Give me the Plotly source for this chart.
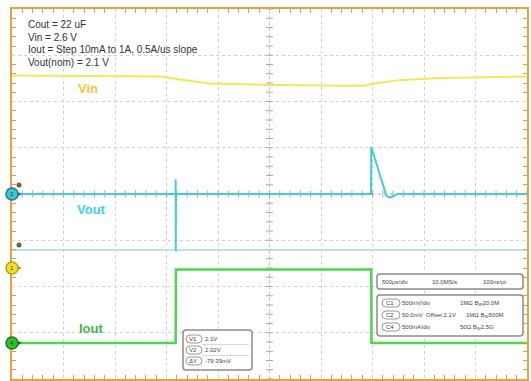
import numpy as np
import plotly.graph_objects as go

# time in us, 500 us/div, 10 div across the screen
t_vin = [-2500, -1050, -870, -580, 0, 920, 1020, 1260, 1650, 2500]
vin = [2.600, 2.590, 2.557, 2.514, 2.498, 2.490, 2.514, 2.550, 2.572, 2.590]

t_vout = [-2500, -912, -911, -910, -908, 986, 988, 1134, 1172, 1240, 2500]
vout = [2.100, 2.100, 2.116, 2.038, 2.100, 2.100, 2.151, 2.098, 2.096, 2.100, 2.100]

t_iout = [-2500, -911, -909, 988, 990, 2500]
iout = [0.01, 0.01, 1.0, 1.0, 0.01, 0.01]

cursor_v = 2.0395
cursor_marks = [2.1097, 2.0449]

notes = ["Cout = 22 uF", "Vin = 2.6 V", "Iout = Step 10mA to 1A, 0.5A/us slope", "Vout(nom) = 2.1 V"]
meas_labels = ["V1", "V2", "\u0394Y"]
meas_values = ["2.1V", "2.02V", "-79.39mV"]
timebase = ["500\u00b5s/div", "10.0MS/s", "100ns/pt"]
ch_labels = ["C1", "C2", "C4"]
ch_scale = ["500mV/div", "50.0mV  Offset:2.1V", "500mA/div"]
ch_imp = ["1M\u03a9 B<sub>W</sub>20.0M", "1M\u03a9 B<sub>W</sub>500M", "50\u03a9 B<sub>W</sub>2.5G"]

W, H = 531, 381
L, R, T, B = 12, 529, 9, 379
PW, PH = R - L, B - T

ORANGE = "#e6a23c"
YELLOW = "#f2e65a"
CYAN = "#44ccd9"
GREEN = "#4cd64c"
TXT = "#444444"


def px(x, y):
    return (x - L) / PW, (B - y) / PH


def rrect(x0, y0, x1, y1, r=3):
    a, b = x0 - L, B - y1
    c, d = x1 - L, B - y0
    return (f"M {a+r},{b} L {c-r},{b} Q {c},{b} {c},{b+r} L {c},{d-r} Q {c},{d} {c-r},{d} "
            f"L {a+r},{d} Q {a},{d} {a},{d-r} L {a},{b+r} Q {a},{b} {a+r},{b} Z")


fig = go.Figure()

# centre graticule ticks
fig.add_trace(go.Scatter(x=np.zeros(41), y=np.linspace(1.9, 2.3, 41), mode="markers",
                         marker=dict(symbol="line-ew", size=5, line=dict(width=1, color="#a8a8a8")),
                         hoverinfo="skip", showlegend=False))
fig.add_trace(go.Scatter(x=np.linspace(-2500, 2500, 51), y=np.full(51, 2.1), mode="markers",
                         marker=dict(symbol="line-ns", size=5, line=dict(width=1, color="#a8a8a8")),
                         hoverinfo="skip", showlegend=False))

fig.add_trace(go.Scatter(x=[-2500, 2500], y=[cursor_v, cursor_v], mode="lines",
                         line=dict(color="#9fdde6", width=1.5), hoverinfo="skip", showlegend=False))
fig.add_trace(go.Scatter(x=t_vin, y=vin, yaxis="y2", mode="lines", line=dict(color=YELLOW, width=2),
                         showlegend=False))
fig.add_trace(go.Scatter(x=t_vout, y=vout, mode="lines", line=dict(color=CYAN, width=2),
                         showlegend=False))
fig.add_trace(go.Scatter(x=t_iout, y=iout, yaxis="y3", mode="lines", line=dict(color=GREEN, width=2.5),
                         showlegend=False))
fig.add_trace(go.Scatter(x=[-2432, -2432], y=cursor_marks, mode="markers",
                         marker=dict(symbol="circle", size=5, color="#6b6434"),
                         hoverinfo="skip", showlegend=False))

axis_common = dict(showticklabels=False, ticks="", zeroline=False, showgrid=True,
                   gridcolor="#d2d2d2", griddash="dot", gridwidth=1,
                   showline=True, linecolor=ORANGE, linewidth=2, mirror="ticks",
                   minor=dict(ticks="inside", ticklen=4, tickcolor="#c9a36a", showgrid=False))
fig.update_layout(
    width=W, height=H,
    margin=dict(l=L, r=W - R, t=T, b=H - B, pad=0),
    paper_bgcolor="white", plot_bgcolor="white",
    xaxis=dict(range=[-2500, 2500], tick0=0, dtick=500, **axis_common),
    yaxis=dict(range=[1.9, 2.3], tick0=2.1, dtick=0.05, **axis_common),
    yaxis2=dict(range=[-0.681, 3.319], overlaying="y", visible=False),
    yaxis3=dict(range=[-0.475, 4.509], overlaying="y", visible=False),
    font=dict(family="Arial", color=TXT),
)
fig.layout.xaxis.minor.dtick = 100
fig.layout.yaxis.minor.dtick = 0.01

shapes = []
anns = []


def label(x0, y0, s, size=6, anchor="left", color=TXT):
    x, y = px(x0, y0)
    anns.append(dict(x=x, y=y, xref="paper", yref="paper", text=s, xanchor=anchor, yanchor="middle",
                     showarrow=False, font=dict(size=size, color=color)))


def box(x0, y0, x1, y1, r=3, lw=1.5, col="#8c8c8c"):
    shapes.append(dict(type="path", xref="paper", yref="paper", xsizemode="pixel", ysizemode="pixel",
                       xanchor=0, yanchor=0, path=rrect(x0, y0, x1, y1, r),
                       fillcolor="white", line=dict(color=col, width=lw)))


# notes at top-left
for i, s in enumerate(notes):
    label(26, 24 + 13 * i, s, size=10, color="#333333")

for s, c, (x0, y0) in [("Vin", "#f2c53a", (76, 88)), ("Vout", "#3fcfe0", (75, 209)),
                        ("Iout", "#3fb54a", (77, 328))]:
    label(x0, y0, f"<b>{s}</b>", size=13, color=c)

# channel markers at left edge
for lab, fill, edge, y0 in [("1", "#f2de2a", "#b8a010", 268), ("2", "#3cc6d6", "#1a7f8c", 194),
                            ("4", "#2fbf2f", "#187a18", 343)]:
    py = B - y0
    shapes.append(dict(type="path", xref="paper", yref="paper", xsizemode="pixel", ysizemode="pixel",
                       xanchor=0, yanchor=0, path=f"M 4,{py+3} L 10,{py} L 4,{py-3} Z",
                       fillcolor=edge, line=dict(width=0)))
    shapes.append(dict(type="circle", xref="paper", yref="paper", xsizemode="pixel", ysizemode="pixel",
                       xanchor=0, yanchor=py / PH, x0=-6, x1=6, y0=-6, y1=6,
                       fillcolor=fill, line=dict(color=edge, width=1.5)))
    label(L, y0, lab, size=6, anchor="center", color="#333333")

# cursor measurement box
box(183, 330, 252, 370)
for i, (lab, val) in enumerate(zip(meas_labels, meas_values)):
    yc = 339 + 11 * i
    box(186, yc - 4, 202, yc + 4, r=4, lw=1, col="#999999")
    label(194, yc, lab, size=6, anchor="center")
    label(204, yc, val)
    if i < 2:
        shapes.append(dict(type="line", xref="paper", yref="paper",
                           x0=px(203, 0)[0], x1=px(250, 0)[0], y0=px(0, yc + 5.5)[1], y1=px(0, yc + 5.5)[1],
                           line=dict(color="#d8d8d8", width=1)))

# timebase box
box(377, 274, 523, 289)
for s, x0 in zip(timebase, [381, 432, 483]):
    label(x0, 281.5, s)

# channel box
box(377, 295, 523, 336)
for i, (lab, sc, imp) in enumerate(zip(ch_labels, ch_scale, ch_imp)):
    yc = 303 + 12 * i
    box(382, yc - 4, 400, yc + 4, r=4, lw=1, col="#999999")
    label(391, yc, lab, size=6, anchor="center")
    label(402, yc, sc)
    label([460, 466, 460][i], yc, imp)

# centre crosshair lines
shapes.append(dict(type="line", xref="x", yref="paper", x0=0, x1=0, y0=0, y1=1,
                   line=dict(color="#b0b0b0", width=1, dash="dot"), layer="below"))
shapes.append(dict(type="line", xref="paper", yref="y", x0=0, x1=1, y0=2.1, y1=2.1,
                   line=dict(color="#b0b0b0", width=1, dash="dot"), layer="below"))

fig.update_layout(shapes=shapes, annotations=anns)
fig.write_html("out.html", config={"displayModeBar": False},
               post_script="document.body.style.margin='0';")
